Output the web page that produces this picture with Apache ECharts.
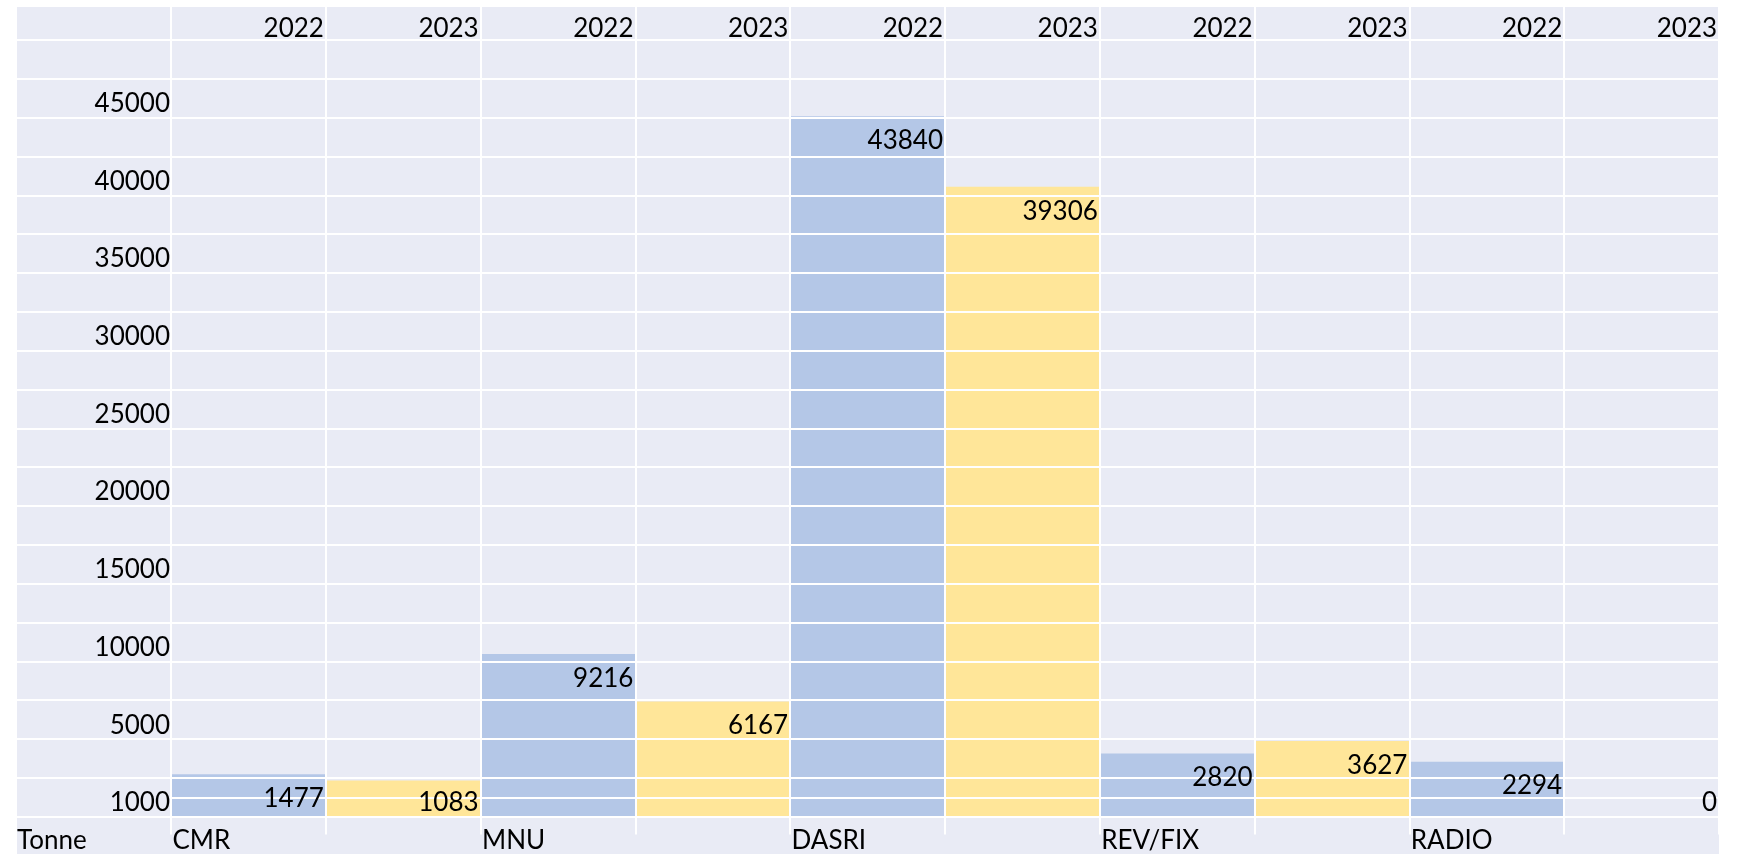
<!DOCTYPE html>
<html>
<head>
<meta charset="utf-8">
<script src="https://cdn.jsdelivr.net/npm/echarts@6/dist/echarts.min.js"></script>
<style>
  html, body { margin: 0; background: #fff; }
  #chart { position: absolute; left: 17px; top: 7px; width: 1702px; height: 847px; }
</style>
</head>
<body>
<div id="chart"></div>
<script>
// data
const years = ['2022', '2023', '2022', '2023', '2022', '2023', '2022', '2023', '2022', '2023'];
const groups = ['CMR', '', 'MNU', '', 'DASRI', '', 'REV/FIX', '', 'RADIO', ''];
const tonnes = [1477, 1083, 9216, 6167, 43840, 39306, 2820, 3627, 2294, 0];
// row labels of the left column, bottom row first
const rowLabels = ['1000', '', '5000', '', '10000', '', '15000', '', '20000', '', '25000', '',
  '30000', '', '35000', '', '40000', '', '45000', ''];
const unitLabel = 'Tonne';

const FONT = 'Lato, sans-serif';
const FS = 26;
const yearColors = { '2022': '#B4C7E7', '2023': '#FFE699' };
const white = { color: '#fff', width: 2 };

// 2500 t per row, 0 in the middle of the bottom row
const rowStep = 2500;
const yMin = -rowStep / 2;
const yMax = yMin + rowStep * rowLabels.length;

const chart = echarts.init(document.getElementById('chart'));

// bar cell: from the bottom of the grid up to the value
function barItem(params, api) {
  const i = api.value(0);
  const v = api.value(1);
  const top = api.coord([i, v]);
  const base = api.coord([i, yMin]);
  const w = api.size([1, 0])[0];
  return {
    type: 'rect',
    shape: { x: top[0] - w / 2, y: top[1], width: w, height: base[1] - top[1] },
    style: { fill: v > 0 ? yearColors[years[i]] : 'transparent' }
  };
}

// value text, right aligned just inside the top of the bar
function labelItem(params, api) {
  const i = api.value(0);
  const v = api.value(1);
  const top = api.coord([i, v]);
  const zero = api.coord([i, 0]);
  const w = api.size([1, 0])[0];
  const half = api.size([0, rowStep / 2])[1];
  return {
    type: 'text',
    x: top[0] + w / 2 - 2,
    y: Math.min(top[1] + half, zero[1]) + 5,
    style: {
      text: String(v), align: 'right', verticalAlign: 'middle',
      fontSize: FS, fontFamily: FONT, fill: '#000'
    }
  };
}

const option = {
  backgroundColor: '#E9EBF5',
  animation: false,
  textStyle: { fontFamily: FONT },
  title: {
    text: unitLabel,
    left: 0,
    top: 821,
    padding: 0,
    textStyle: { fontSize: FS, fontWeight: 'normal', fontFamily: FONT, color: '#000' }
  },
  grid: { left: 154, right: 0, top: 33, bottom: 37.3, outerBoundsMode: 'none' },
  xAxis: [
    {
      type: 'category',
      data: groups,
      position: 'bottom',
      z: 5,
      axisLine: { show: true, lineStyle: white },
      axisTick: { show: true, interval: 0, length: 37.3, lineStyle: white },
      axisLabel: {
        interval: 0,
        margin: 24,
        verticalAlign: 'middle',
        formatter: v => '{a|' + v + '}',
        rich: { a: { width: 152, lineHeight: 24, align: 'left', fontSize: FS, fontFamily: FONT, color: '#000' } }
      },
      splitLine: { show: true, interval: 0, lineStyle: white }
    },
    {
      type: 'category',
      data: years,
      position: 'top',
      z: 5,
      axisLine: { show: true, lineStyle: white },
      axisTick: { show: true, interval: 0, length: 33, lineStyle: white },
      axisLabel: {
        interval: 0,
        margin: 11,
        verticalAlign: 'middle',
        formatter: v => '{a|' + v + '}',
        rich: { a: { width: 151, lineHeight: 24, align: 'right', fontSize: FS, fontFamily: FONT, color: '#000' } }
      },
      splitLine: { show: false }
    }
  ],
  yAxis: [
    {
      type: 'category',
      data: rowLabels,
      position: 'left',
      z: 5,
      axisLine: { show: true, lineStyle: white },
      axisTick: { show: true, interval: 0, length: 154, lineStyle: white },
      axisLabel: {
        interval: 0, margin: 1, verticalAlign: 'top', lineHeight: 11,
        fontSize: FS, fontFamily: FONT, color: '#000'
      },
      splitLine: { show: true, interval: 0, lineStyle: white }
    },
    {
      type: 'value',
      min: yMin,
      max: yMax,
      show: false,
      splitLine: { show: false }
    }
  ],
  series: [
    {
      type: 'custom',
      xAxisIndex: 0,
      yAxisIndex: 1,
      z: 2,
      data: tonnes.map((v, i) => [i, v]),
      encode: { x: 0, y: 1 },
      renderItem: barItem
    },
    {
      type: 'custom',
      xAxisIndex: 0,
      yAxisIndex: 1,
      z: 10,
      silent: true,
      data: tonnes.map((v, i) => [i, v]),
      encode: { x: 0, y: 1 },
      renderItem: labelItem
    }
  ]
};

chart.setOption(option);
window.addEventListener('resize', () => chart.resize());
</script>
</body>
</html>
